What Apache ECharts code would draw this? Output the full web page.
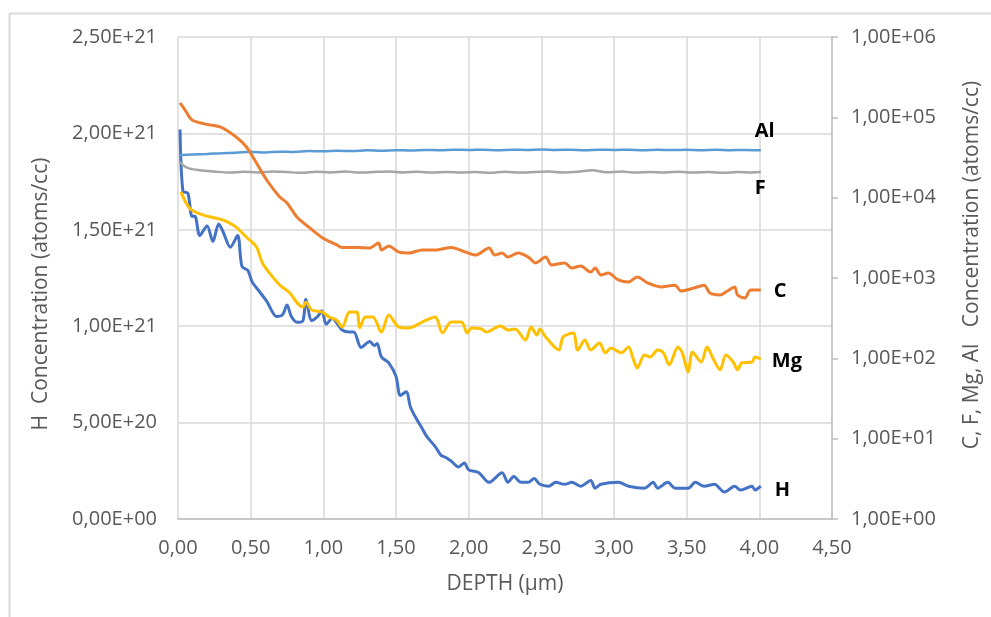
<!DOCTYPE html>
<html>
<head>
<meta charset="utf-8">
<script src="https://cdn.jsdelivr.net/npm/echarts@6/dist/echarts.min.js"></script>
<style>
html,body{margin:0;padding:0;background:#fff;}
#chart{width:991px;height:617px;}
</style>
</head>
<body>
<div id="chart"></div>
<script>
// ---- data (depth in µm) ----
const hDepth = [0.014,0.034,0.068,0.096,0.116,0.15,0.2,0.24,0.28,0.31,0.36,0.41,0.44,0.48,0.51,0.56,0.61,0.68,0.72,0.75,0.78,0.82,0.86,0.88,0.92,0.96,0.99,1.02,1.06,1.13,1.18,1.21,1.26,1.32,1.35,1.37,1.40,1.45,1.50,1.53,1.57,1.60,1.64,1.68,1.71,1.77,1.81,1.84,1.88,1.93,1.97,2.00,2.07,2.14,2.23,2.27,2.31,2.36,2.41,2.45,2.49,2.55,2.60,2.66,2.71,2.77,2.84,2.87,2.91,3.03,3.10,3.21,3.27,3.30,3.37,3.42,3.51,3.56,3.62,3.69,3.76,3.83,3.87,3.95,3.97,4.01];
const hValues = [2.02e21,1.70e21,1.69e21,1.57e21,1.57e21,1.47e21,1.52e21,1.44e21,1.53e21,1.49e21,1.41e21,1.47e21,1.31e21,1.29e21,1.23e21,1.18e21,1.13e21,1.05e21,1.06e21,1.11e21,1.05e21,1.02e21,1.03e21,1.14e21,1.03e21,1.05e21,1.08e21,1.01e21,1.04e21,0.98e21,0.97e21,0.97e21,0.89e21,0.92e21,0.90e21,0.91e21,0.84e21,0.81e21,0.74e21,0.64e21,0.66e21,0.58e21,0.52e21,0.47e21,0.43e21,0.375e21,0.33e21,0.32e21,0.30e21,0.27e21,0.29e21,0.255e21,0.24e21,0.19e21,0.24e21,0.19e21,0.22e21,0.19e21,0.19e21,0.21e21,0.18e21,0.17e21,0.19e21,0.18e21,0.19e21,0.17e21,0.20e21,0.16e21,0.18e21,0.19e21,0.17e21,0.16e21,0.19e21,0.16e21,0.19e21,0.16e21,0.16e21,0.19e21,0.17e21,0.18e21,0.14e21,0.17e21,0.15e21,0.17e21,0.15e21,0.17e21];

const alDepth = [0.014,0.1,0.2,0.3,0.4,0.5,0.6,0.7,0.8,0.9,1.0,1.1,1.2,1.3,1.4,1.5,1.6,1.7,1.8,1.9,2.0,2.1,2.2,2.3,2.4,2.5,2.6,2.7,2.8,2.9,3.0,3.1,3.2,3.3,3.4,3.5,3.6,3.7,3.8,3.9,4.01];
const alValues = [3.4e4,3.45e4,3.5e4,3.58e4,3.62e4,3.72e4,3.64e4,3.74e4,3.7e4,3.8e4,3.78e4,3.84e4,3.8e4,3.88e4,3.84e4,3.9e4,3.86e4,3.93e4,3.9e4,3.95e4,3.92e4,3.96e4,3.9e4,3.95e4,3.92e4,3.97e4,3.93e4,3.96e4,3.9e4,3.95e4,3.92e4,3.96e4,3.9e4,3.94e4,3.91e4,3.95e4,3.9e4,3.94e4,3.9e4,3.93e4,3.9e4];

const fDepth = [0.014,0.04,0.08,0.15,0.25,0.35,0.45,0.55,0.65,0.75,0.85,0.95,1.05,1.15,1.25,1.35,1.45,1.55,1.65,1.75,1.85,1.95,2.05,2.15,2.25,2.35,2.45,2.55,2.65,2.75,2.85,2.95,3.05,3.15,3.25,3.35,3.45,3.55,3.65,3.75,3.85,3.95,4.01];
const fValues = [2.78e4,2.5e4,2.3e4,2.2e4,2.12e4,2.05e4,2.1e4,2.06e4,2.12e4,2.08e4,2.04e4,2.1e4,2.06e4,2.11e4,2.05e4,2.09e4,2.12e4,2.06e4,2.1e4,2.05e4,2.09e4,2.06e4,2.08e4,2.04e4,2.1e4,2.05e4,2.08e4,2.12e4,2.06e4,2.1e4,2.2e4,2.07e4,2.11e4,2.05e4,2.09e4,2.06e4,2.1e4,2.05e4,2.08e4,2.04e4,2.08e4,2.06e4,2.08e4];

const cDepth = [0.014,0.048,0.096,0.18,0.29,0.40,0.47,0.54,0.61,0.70,0.75,0.82,0.90,0.99,1.09,1.13,1.23,1.32,1.38,1.40,1.45,1.52,1.59,1.68,1.77,1.88,1.98,2.05,2.14,2.18,2.23,2.27,2.34,2.41,2.46,2.53,2.57,2.66,2.71,2.77,2.84,2.87,2.91,2.96,3.03,3.10,3.16,3.23,3.32,3.42,3.46,3.55,3.62,3.66,3.73,3.78,3.83,3.85,3.90,3.94,4.01];
const cValues = [1.51e5,1.24e5,9.3e4,8.3e4,7.6e4,5.7e4,4.3e4,2.7e4,1.66e4,1.02e4,8.6e3,5.7e3,4.3e3,3.2e3,2.6e3,2.4e3,2.4e3,2.37e3,2.73e3,2.23e3,2.5e3,2.1e3,2.05e3,2.23e3,2.23e3,2.4e3,2.1e3,1.93e3,2.37e3,1.93e3,2.05e3,1.82e3,2.05e3,1.82e3,1.54e3,1.82e3,1.45e3,1.54e3,1.33e3,1.41e3,1.19e3,1.33e3,1.09e3,1.15e3,945,890,1030,870,775,815,690,750,815,650,615,690,775,615,565,710,710];

const mgDepth = [0.02,0.08,0.17,0.29,0.34,0.40,0.47,0.54,0.58,0.63,0.70,0.77,0.82,0.86,0.88,0.92,0.99,1.04,1.09,1.13,1.18,1.23,1.25,1.29,1.34,1.40,1.45,1.52,1.59,1.68,1.77,1.82,1.88,1.95,1.99,2.02,2.09,2.12,2.22,2.27,2.32,2.39,2.43,2.47,2.49,2.53,2.62,2.65,2.72,2.75,2.80,2.84,2.90,2.94,2.98,3.05,3.10,3.13,3.16,3.21,3.25,3.30,3.34,3.38,3.44,3.47,3.51,3.54,3.60,3.64,3.68,3.73,3.77,3.82,3.85,3.88,3.95,3.97,4.01];
const mgValues = [1.18e4,7.4e3,6.1e3,5.4e3,5.0e3,4.3e3,3.24e3,2.43e3,1.54e3,1.15e3,819,650,490,435,500,400,378,327,300,245,378,378,239,327,327,212,347,245,239,283,327,207,283,283,207,239,232,212,253,225,232,169,245,195,232,184,127,184,207,127,169,127,155,117,134,117,138,101,76,110,104,127,117,83,138,117,68,119,90,138,101,72,110,90,72,88,90,104,98];

const seriesNames = ['H','Al','F','C','Mg'];
const seriesColors = ['#4472C4','#5B9BD5','#A5A5A5','#ED7D31','#FFC000'];

// ---- helpers ----
const FONT = '"Open Sans", "Liberation Sans", sans-serif';
function sci(v){
  if (v === 0) return '0,00E+00';
  let e = Math.floor(Math.log10(Math.abs(v)) + 1e-9);
  let m = v / Math.pow(10, e);
  if (Math.abs(m) >= 9.995) { m /= 10; e += 1; }
  const es = (e < 0 ? '-' : '+') + String(Math.abs(e)).padStart(2,'0');
  return m.toFixed(2).replace('.', ',') + 'E' + es;
}
function pairs(xs, ys){ return xs.map((x,i) => [x, ys[i]]); }
function endLbl(text, off){
  return { show: true, formatter: text, distance: 0, offset: off,
    fontFamily: FONT, fontWeight: 'bold', fontSize: 20, color: '#000' };
}
const TICK_FS = 20, NAME_FS = 21, GREY = '#595959';

const chart = echarts.init(document.getElementById('chart'), null, {renderer:'canvas'});
const option = {
  animation: false,
  backgroundColor: '#ffffff',
  graphic: [{
    type: 'rect', left: 7, top: 11, silent: true,
    shape: { width: 1100, height: 800 },
    style: { fill: 'none', stroke: '#d9d9d9', lineWidth: 2 }
  }],
  grid: { left: 178, top: 37, width: 655, height: 482, containLabel: false },
  xAxis: {
    type: 'value', min: 0, max: 4.5, interval: 0.5,
    name: 'DEPTH (µm)', nameLocation: 'middle', nameGap: 55,
    nameTextStyle: { color: GREY, fontSize: NAME_FS, fontFamily: FONT },
    axisLine: { show: true, lineStyle: { color: '#bfbfbf', width: 1.5 } },
    axisTick: { show: false },
    axisLabel: { color: GREY, fontSize: TICK_FS, fontFamily: FONT, margin: 19,
      formatter: v => v.toFixed(2).replace('.', ',') },
    splitLine: { show: true, lineStyle: { color: '#d9d9d9', width: 1.5 } }
  },
  yAxis: [{
    type: 'value', min: 0, max: 2.5e21, interval: 5e20, position: 'left',
    name: 'H  Concentration (atoms/cc)', nameLocation: 'middle', nameRotate: 90, nameGap: 126,
    nameTextStyle: { color: GREY, fontSize: NAME_FS, fontFamily: FONT, padding: [0, 32, 0, 0] },
    axisLine: { show: false },
    axisTick: { show: false },
    axisLabel: { color: GREY, fontSize: TICK_FS, fontFamily: FONT, margin: 21, formatter: sci },
    splitLine: { show: true, lineStyle: { color: '#d9d9d9', width: 1.5 } }
  }, {
    type: 'log', logBase: 10, min: 1, max: 1e6, position: 'right',
    name: 'C, F, Mg, Al   Concentration (atoms/cc)', nameLocation: 'middle', nameRotate: 90, nameGap: 130,
    nameTextStyle: { color: GREY, fontSize: NAME_FS, fontFamily: FONT, padding: [0, 0, 0, 26] },
    axisLine: { show: true, lineStyle: { color: '#bfbfbf', width: 1.5 } },
    axisTick: { show: true, inside: false, length: 6, lineStyle: { color: '#bfbfbf', width: 1.5 } },
    axisLabel: { color: GREY, fontSize: TICK_FS, fontFamily: FONT, margin: 19, formatter: sci },
    splitLine: { show: false }
  }],
  series: [
    { name: seriesNames[0], type: 'line', yAxisIndex: 0, showSymbol: false, smooth: 0.3,
      lineStyle: { color: seriesColors[0], width: 3 }, itemStyle: { color: seriesColors[0] },
      endLabel: endLbl('H', [14, 4]),
      data: pairs(hDepth, hValues) },
    { name: seriesNames[1], type: 'line', yAxisIndex: 1, showSymbol: false, smooth: 0.3,
      lineStyle: { color: seriesColors[1], width: 2.5 }, itemStyle: { color: seriesColors[1] },
      endLabel: endLbl('Al', [-6, -19]),
      data: pairs(alDepth, alValues) },
    { name: seriesNames[2], type: 'line', yAxisIndex: 1, showSymbol: false, smooth: 0.3,
      lineStyle: { color: seriesColors[2], width: 2.5 }, itemStyle: { color: seriesColors[2] },
      endLabel: endLbl('F', [-6, 16]),
      data: pairs(fDepth, fValues) },
    { name: seriesNames[3], type: 'line', yAxisIndex: 1, showSymbol: false, smooth: 0.3,
      lineStyle: { color: seriesColors[3], width: 3 }, itemStyle: { color: seriesColors[3] },
      endLabel: endLbl('C', [13, 1]),
      data: pairs(cDepth, cValues) },
    { name: seriesNames[4], type: 'line', yAxisIndex: 1, showSymbol: false, smooth: 0.3,
      lineStyle: { color: seriesColors[4], width: 3 }, itemStyle: { color: seriesColors[4] },
      endLabel: endLbl('Mg', [11, 2]),
      data: pairs(mgDepth, mgValues) }
  ]
};
chart.setOption(option);
</script>
</body>
</html>
